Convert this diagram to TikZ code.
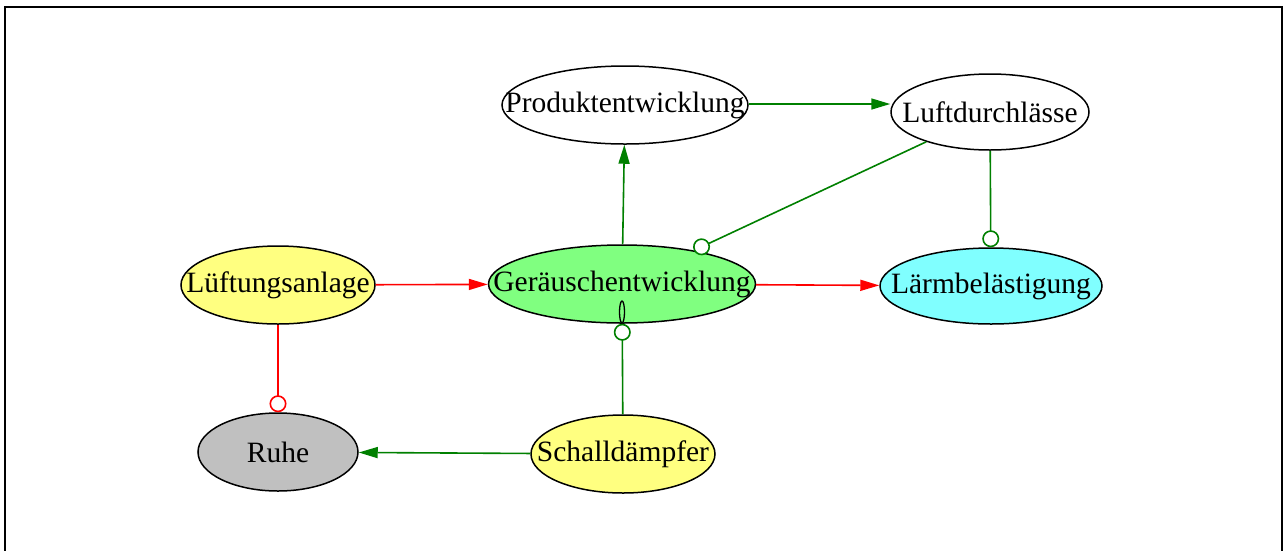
\documentclass[tikz,border=0pt]{standalone}
\usepackage{fontspec}
\setmainfont{Liberation Serif}
\usetikzlibrary{shapes.geometric,arrows.meta}
\definecolor{gvgreen}{HTML}{008000}
\definecolor{gvred}{HTML}{FF0000}
\definecolor{fyellow}{HTML}{FFFF80}
\definecolor{fgreen}{HTML}{80FF80}
\definecolor{fcyan}{HTML}{80FFFF}
\definecolor{fgray}{HTML}{C0C0C0}
\tikzset{
  gvnode/.style={ellipse, draw=black, line width=1.5pt, inner sep=0pt, font=\fontsize{29.5}{32}\selectfont},
  toarrow/.style={line width=1.6pt, -{Triangle[length=19pt,width=11pt]}},
  tocircle/.style={line width=1.6pt, -{Circle[open,length=17pt,width=17pt,fill=white]}},
  greenedge/.style={draw=gvgreen, color=gvgreen},
  rededge/.style={draw=gvred, color=gvred},
}
\newcommand{\zw}[1]{\makebox[0pt]{\raisebox{-3pt}{#1}}}
\begin{document}
\begin{tikzpicture}[x=1pt,y=1pt]
\useasboundingbox (0,0) rectangle (1288,-550);
\fill[white] (0,0) rectangle (1288,-550);
\draw[line width=2pt] (5,-570) -- (5,-6.5) -- (1282,-6.5) -- (1282,-570);

\node[gvnode, minimum width=246, minimum height=78] (prod) at (625,-105) {\zw{Produktentwicklung}};
\node[gvnode, minimum width=198, minimum height=76] (luft) at (990,-112) {\zw{Luftdurchlässe}};
\node[gvnode, fill=fyellow, minimum width=194, minimum height=78] (lueft) at (278,-285) {\zw{Lüftungsanlage}};
\node[gvnode, fill=fgreen, minimum width=267, minimum height=78] (ger) at (622,-284) {\zw{Geräuschentwicklung}};
\node[gvnode, fill=fcyan, minimum width=222, minimum height=76] (laerm) at (991,-286) {\zw{Lärmbelästigung}};
\node[gvnode, fill=fgray, minimum width=160, minimum height=78] (ruhe) at (278,-452) {\zw{Ruhe}};
\node[gvnode, fill=fyellow, minimum width=184, minimum height=78] (schall) at (623,-454) {\zw{Schalldämpfer}};

% self loop
\draw[line width=1.3pt] (622,-312) ellipse [x radius=2.5, y radius=11];

\draw[rededge, toarrow] (lueft) -- (ger);
\draw[rededge, toarrow] (ger) -- (laerm);
\draw[greenedge, toarrow] (ger) -- (prod);
\draw[greenedge, toarrow] (prod.east |- 0,-104) -- (luft.west |- 0,-104);
\draw[greenedge, tocircle] (luft) -- (ger);
\draw[greenedge, tocircle] (luft) -- (laerm);
\draw[rededge, tocircle] (lueft) -- (ruhe);
\draw[greenedge, tocircle] (schall) -- (ger);
\draw[greenedge, toarrow] (schall) -- (ruhe);
\end{tikzpicture}
\end{document}
